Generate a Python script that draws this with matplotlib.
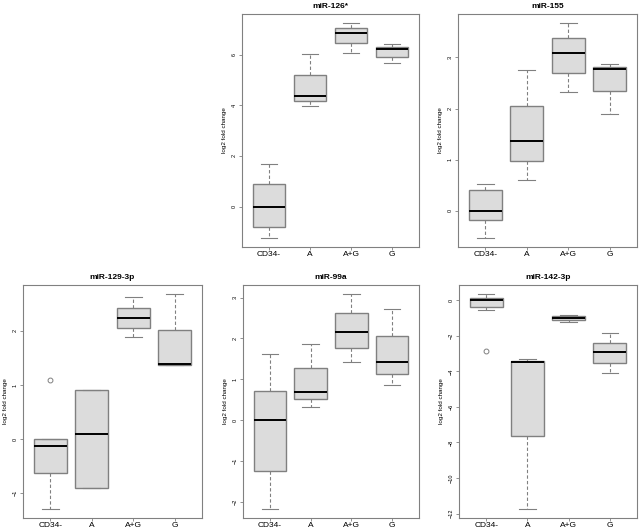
import matplotlib
matplotlib.use("Agg")
import matplotlib.pyplot as plt
from matplotlib.ticker import MultipleLocator

plt.rcParams['font.family'] = ['Liberation Sans', 'DejaVu Sans']

groups = ["CD34-", "A", "A+G", "G"]

# per group: (whisker low, q1, median, q3, whisker high)
mir126 = [(-1.26, -0.83, 0.00, 0.88, 1.67),
          (3.98, 4.17, 4.37, 5.19, 6.03),
          (6.07, 6.46, 6.85, 7.04, 7.27),
          (5.67, 5.93, 6.22, 6.29, 6.42)]
mir155 = [(-0.54, -0.18, 0.00, 0.41, 0.52),
          (0.61, 0.98, 1.37, 2.05, 2.75),
          (2.32, 2.70, 3.08, 3.38, 3.68),
          (1.90, 2.34, 2.78, 2.82, 2.88)]
mir129 = [(-1.30, -0.63, -0.13, 0.00, 0.00),
          (-0.90, -0.90, 0.09, 0.90, 0.90),
          (1.88, 2.06, 2.24, 2.43, 2.63),
          (1.37, 1.37, 1.38, 2.02, 2.69)]
mir99a = [(-2.19, -1.26, 0.00, 0.71, 1.62),
          (0.32, 0.51, 0.68, 1.27, 1.87),
          (1.42, 1.77, 2.15, 2.62, 3.10),
          (0.85, 1.13, 1.42, 2.06, 2.73)]
mir142 = [(-0.56, -0.36, 0.02, 0.13, 0.37),
          (-11.76, -7.62, -3.45, -3.41, -3.33),
          (-1.25, -1.10, -0.99, -0.90, -0.81),
          (-4.10, -3.52, -2.92, -2.40, -1.85)]

outliers129 = [[1.09], [], [], []]
outliers142 = [[-2.88], [], [], []]

panels = [
    ("miR-126*", mir126, [[], [], [], []], 2, (242, 14, 419, 247)),
    ("miR-155", mir155, [[], [], [], []], 1, (458, 14, 637, 247)),
    ("miR-129-3p", mir129, outliers129, 1, (23, 285, 202, 518)),
    ("miR-99a", mir99a, [[], [], [], []], 1, (243, 285, 419, 518)),
    ("miR-142-3p", mir142, outliers142, 2, (459, 285, 637, 518)),
]

W, H = 640, 530
fig = plt.figure(figsize=(W / 100, H / 100), dpi=100)

edge = "#808080"
for title, stats, fliers, step, (x0, y0, x1, y1) in panels:
    ax = fig.add_axes([x0 / W, 1 - y1 / H, (x1 - x0) / W, (y1 - y0) / H])
    bs = []
    for (lo, q1, med, q3, hi), fl in zip(stats, fliers):
        bs.append(dict(whislo=lo, q1=q1, med=med, q3=q3, whishi=hi, fliers=fl))
    ax.bxp(bs, positions=range(1, 5), widths=0.8, patch_artist=True,
           boxprops=dict(facecolor="#dcdcdc", edgecolor=edge, linewidth=1),
           whiskerprops=dict(color=edge, linestyle=(0, (3, 2)), linewidth=0.8),
           capprops=dict(color=edge, linewidth=0.8),
           medianprops=dict(color="black", linewidth=1.4),
           flierprops=dict(marker="o", markerfacecolor="none", markeredgecolor=edge,
                           markersize=3.5, markeredgewidth=0.7))
    lo = min(min(s[0] for s in stats), min([v for f in fliers for v in f] + [99]))
    hi = max(max(s[4] for s in stats), max([v for f in fliers for v in f] + [-99]))
    pad = (hi - lo) * 0.04
    ax.set_ylim(lo - pad, hi + pad)
    ax.set_xlim(0.34, 4.66)
    ax.set_xticks(range(1, 5))
    ax.set_xticklabels(groups, fontsize=6)
    ax.yaxis.set_major_locator(MultipleLocator(step))
    for lbl in ax.get_yticklabels():
        lbl.set_rotation(90)
        lbl.set_va("center")
    ax.tick_params(axis="y", labelsize=4, length=2, width=0.6, color=edge, pad=2)
    ax.tick_params(axis="x", length=2, width=0.6, color=edge, pad=1)
    for sp in ax.spines.values():
        sp.set_color(edge)
        sp.set_linewidth(0.8)
    ax.set_title(title, fontsize=6, fontweight="bold", pad=4)
    ax.set_ylabel("log2 fold change", fontsize=4.5, labelpad=3)

fig.savefig("out.png", dpi=100)
